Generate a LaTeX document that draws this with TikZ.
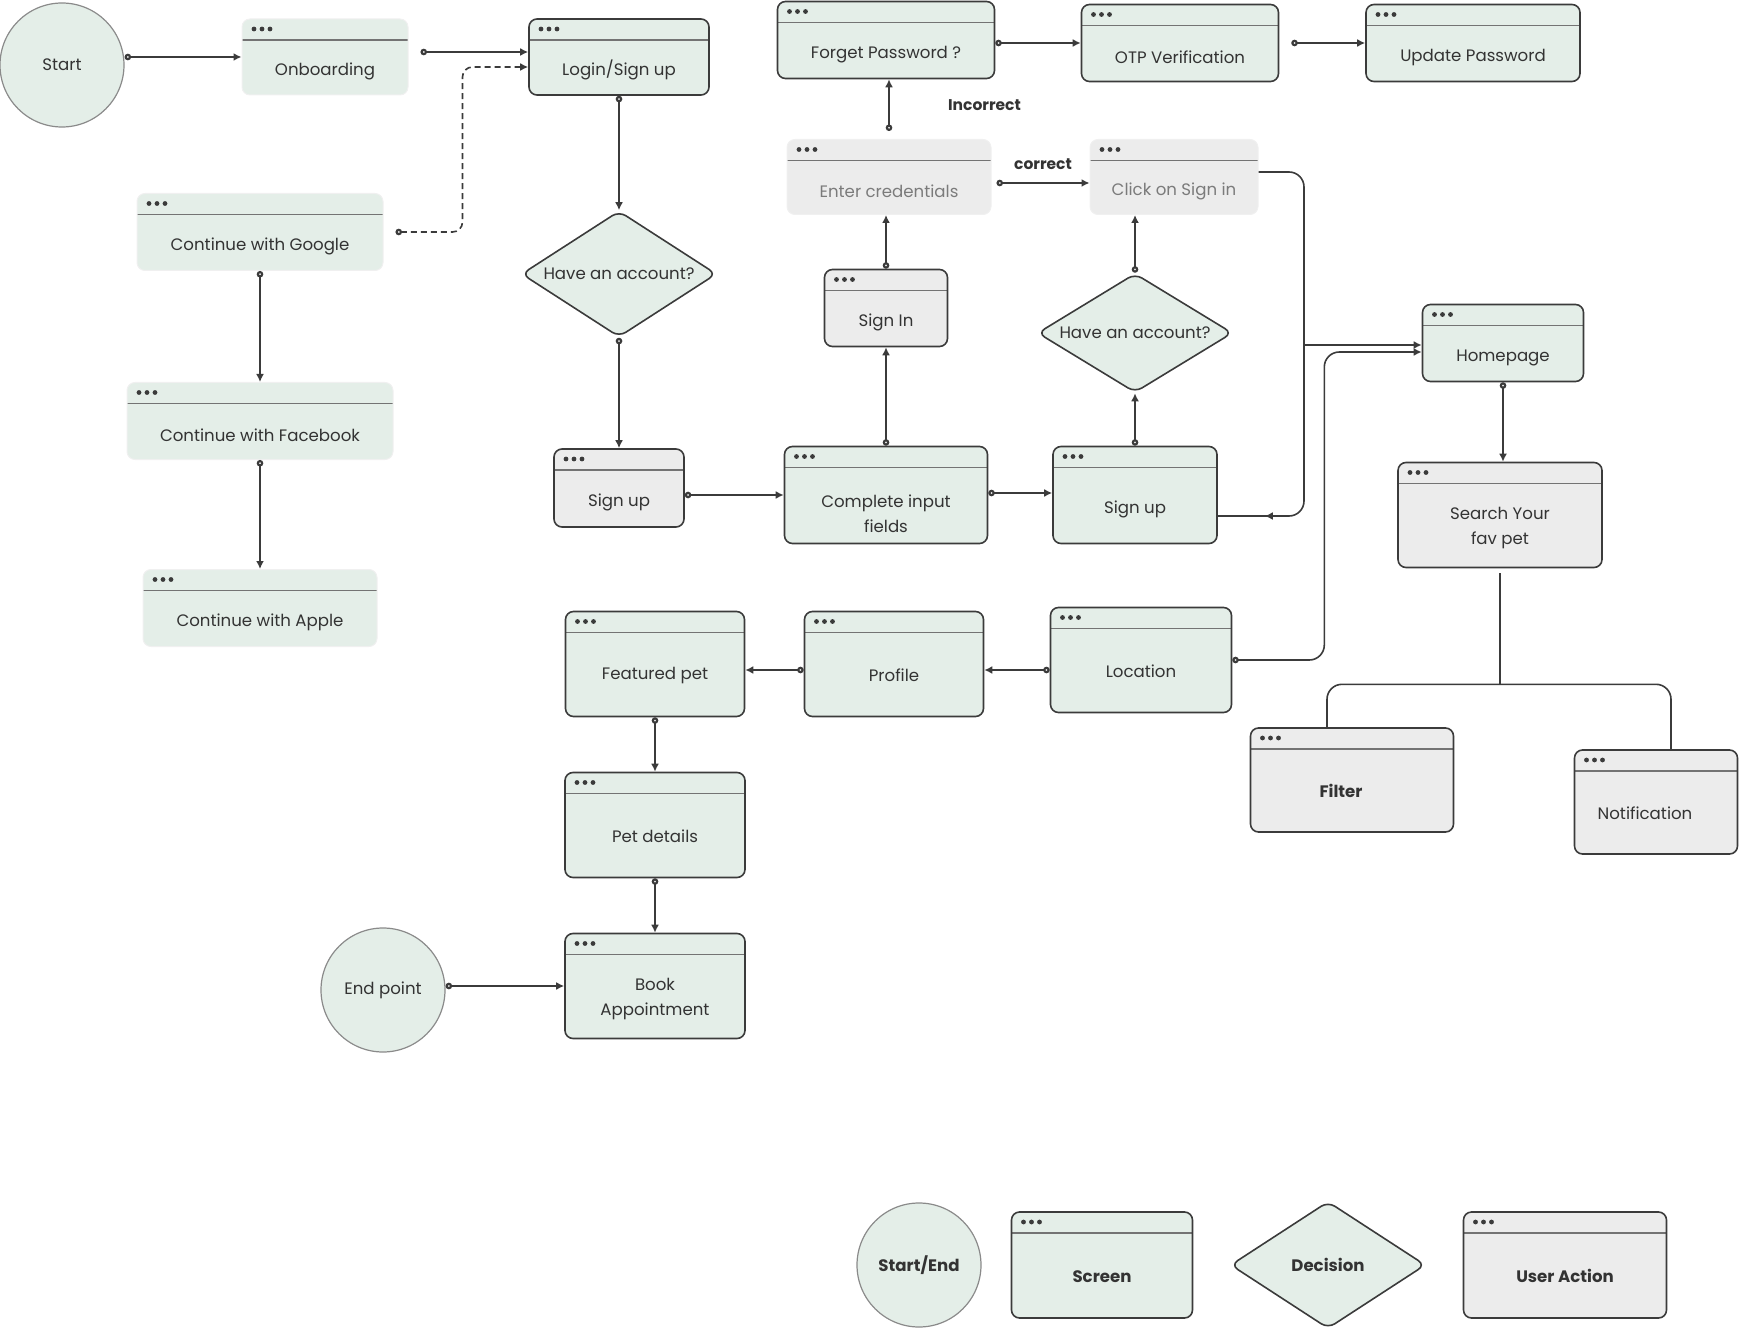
\documentclass[tikz,border=0pt]{standalone}
\usepackage{fontspec}
\setmainfont{Poppins}
\usepackage{tikz}
\usetikzlibrary{
    arrows.meta,
    shapes.geometric,
    positioning,
    calc,
    decorations.markings
}
\definecolor{screengreen}{HTML}{E4EEE8}
\definecolor{actiongray}{HTML}{ECECEC}
\definecolor{edgedark}{HTML}{3B3B3B}
\definecolor{textdark}{HTML}{333333}
\definecolor{textlight}{HTML}{7B7B7B}
\definecolor{ringgray}{HTML}{8A8A8A}
\newcommand{\headlen}{41pt}
\newcommand{\headroom}[1][\headlen]{\rule{0pt}{#1}}
\tikzstyle{screen} = [
    rectangle,
    rounded corners=8pt,
    draw=edgedark,
    line width=1.6pt,
    fill=screengreen,
    minimum height=77pt,
    align=center,
    text=textdark,
    font=\fontsize{16.6}{25}\selectfont,
    execute at begin node={\headroom},
    path picture={
        \draw[black!55, line width=1.4pt]
            ([yshift=-21pt]path picture bounding box.north west) --
            ([yshift=-21pt]path picture bounding box.north east);
        \foreach \dx in {12,20,28}
            \fill[edgedark] ([xshift=\dx pt, yshift=-10pt]path picture bounding box.north west) circle (2.4pt);
    }
]
\tikzstyle{action} = [screen, fill=actiongray]
\tikzstyle{flat} = [draw=black!6, line width=1pt]
\tikzstyle{tall} = [minimum height=105pt, /utils/exec={\def\headlen{36pt}}]
\tikzstyle{strong} = [font=\fontsize{16.6}{25}\selectfont\bfseries]
\tikzstyle{terminal} = [
    circle,
    draw=ringgray,
    line width=1.2pt,
    fill=screengreen,
    minimum size=124pt,
    text=textdark,
    font=\fontsize{16.6}{20}\selectfont
]
\tikzstyle{decision} = [
    diamond,
    aspect=1.55,
    draw=edgedark,
    line width=1.6pt,
    fill=screengreen,
    rounded corners=8pt,
    minimum width=195pt,
    minimum height=126pt,
    inner sep=0pt,
    text=textdark,
    font=\fontsize{16.6}{20}\selectfont
]
\tikzstyle{arrow} = [
    draw=edgedark,
    line width=1.6pt,
    {Circle[open,length=6.5pt,width=6.5pt,line width'=2.2pt]}-{Latex[length=8pt,width=8pt]}
]
\tikzstyle{link} = [
    draw=edgedark,
    line width=1.6pt
]
\tikzstyle{edgetext} = [
    font=\fontsize{15.5}{18}\selectfont\bfseries,
    text=textdark
]

\begin{document}
\begin{tikzpicture}[x=1pt, y=-1pt]
        \useasboundingbox (0,0) rectangle (1740,1329);

        % Entry
        \node[terminal] (start) at (62,65) {Start};
        \node[screen, flat, minimum width=166pt, minimum height=76pt] (onboarding) at (325,57) {Onboarding};
        \node[screen, minimum width=180pt, minimum height=76pt] (login) at (619,57) {Login/Sign up};

        % Social login
        \node[screen, flat, minimum width=246pt] (google) at (260,232) {Continue with Google};
        \node[screen, flat, minimum width=266pt] (facebook) at (260,421) {Continue with Facebook};
        \node[screen, flat, minimum width=234pt] (apple) at (260,608) {Continue with Apple};

        % Sign up branch
        \node[decision] (account1) at (619,274) {Have an account?};
        \node[action, minimum width=130pt, minimum height=78pt] (signup1) at (619,488) {Sign up};
        \node[screen, minimum width=203pt, minimum height=97pt] (inputs) at (886,495) {\headroom[50pt]Complete input\\fields};
        \node[screen, minimum width=164pt, minimum height=97pt] (signup2) at (1135,495) {Sign up};
        \node[decision, minimum height=119pt] (account2) at (1135,333) {Have an account?};

        % Sign in branch
        \node[action, minimum width=123pt] (signin) at (886,308) {Sign In};
        \node[action, flat, minimum width=204pt, minimum height=75pt, text=textlight] (credentials) at (889,177) {Enter credentials};
        \node[action, flat, minimum width=168pt, minimum height=75pt, text=textlight] (clicksignin) at (1174,177) {Click on Sign in};

        % Password recovery
        \node[screen, minimum width=217pt] (forget) at (886,40) {Forget Password ?};
        \node[screen, minimum width=197pt] (otp) at (1180,43) {OTP Verification};
        \node[screen, minimum width=214pt] (update) at (1473,43) {Update Password};

        % Home
        \node[screen, minimum width=161pt] (homepage) at (1503,343) {Homepage};
        \node[action, minimum width=204pt, minimum height=105pt] (search) at (1500,515) {\headroom[38pt]Search Your\\fav pet};
        \node[action, tall, strong, minimum width=203pt, minimum height=104pt] (filter) at (1352,780) {Filter\hspace*{22pt}};
        \node[action, tall, minimum width=163pt, minimum height=104pt] (notification) at (1656,802) {Notification\hspace*{22pt}};

        % Pet flow
        \node[screen, tall, minimum width=181pt] (location) at (1141,660) {Location};
        \node[screen, tall, minimum width=179pt] (profile) at (894,664) {Profile};
        \node[screen, tall, minimum width=179pt] (featured) at (655,664) {Featured pet};
        \node[screen, tall, minimum width=180pt] (petdetails) at (655,825) {Pet details};
        \node[screen, minimum width=180pt, minimum height=105pt] (booking) at (655,986) {\headroom[38pt]Book\\Appointment};
        \node[terminal] (endpoint) at (383,990) {End point};

        % Legend
        \node[terminal, font=\fontsize{16.6}{20}\selectfont\bfseries] (legendterminal) at (919,1265) {Start/End};
        \node[screen, tall, strong, minimum width=181pt, minimum height=106pt] (legendscreen) at (1102,1265) {Screen};
        \node[decision, font=\fontsize{16.6}{20}\selectfont\bfseries, minimum height=127pt] (legenddecision) at (1328,1265) {Decision};
        \node[action, tall, strong, minimum width=203pt, minimum height=106pt] (legendaction) at (1565,1265) {User Action};

        % Entry arrows
        \draw[arrow] (start.east |- onboarding.west) -- (onboarding.west);
        \draw[arrow] ([xshift=12pt, yshift=5pt]onboarding.east) -- ([yshift=5pt]login.west);
        \draw[arrow, dashed, dash pattern=on 6pt off 4pt, rounded corners=10pt] ([xshift=12pt]google.east) -- ++(67pt,0) |- ([yshift=-10pt]login.west);
        \draw[arrow] (google.south) -- (facebook.north);
        \draw[arrow] (facebook.south) -- (apple.north);

        % Sign up arrows
        \draw[arrow] (login.south) -- (account1.north);
        \draw[arrow] (account1.south) -- (signup1.north);
        \draw[arrow] (signup1.east |- inputs.west) -- (inputs.west);
        \draw[arrow] ([yshift=2pt]inputs.east) -- ([yshift=2pt]signup2.west);
        \draw[arrow] (signup2.north) -- (account2.south);
        \draw[arrow] (account2.north) -- (account2.north |- clicksignin.south);

        % Sign in arrows
        \draw[arrow] (inputs.north) -- (signin.south);
        \draw[arrow] (signin.north) -- (signin.north |- credentials.south);
        \draw[arrow] ([yshift=8pt]credentials.north) -- node[edgetext, right=55pt] {Incorrect} (credentials.north |- forget.south);
        \draw[arrow] ([xshift=5pt, yshift=-6pt]credentials.east) -- node[edgetext, above=9pt] {correct} ([yshift=-6pt]clicksignin.west);
        \draw[arrow] (forget.east |- otp.west) -- (otp.west);
        \draw[arrow] ([xshift=12pt]otp.east) -- (update.west);

        % To homepage
        \coordinate (merge) at (1304,345);
        \draw[link, rounded corners=15pt, postaction={decorate, decoration={markings, mark=at position -47pt with {\arrow{Latex[length=8pt,width=8pt]}}}}] ([yshift=5pt]clicksignin.east) -| (merge) |- ([yshift=-21pt]signup2.east);
        \draw[link, -{Latex[length=8pt,width=8pt]}] (merge) -- (merge -| homepage.west);
        \draw[arrow, rounded corners=15pt] (location.east) -- ++(92pt,0) |- ([yshift=-9pt]homepage.west);
        \draw[arrow] (homepage.south) -- (homepage.south |- search.north);

        % Search split
        \coordinate (split) at ([yshift=-116pt]search.south);
        \draw[link] ([yshift=-5pt]search.south) -- (split);
        \draw[link, rounded corners=15pt] (split) -| ([xshift=-25pt]filter.north);
        \draw[link, rounded corners=15pt] (split) -| ([xshift=15pt]notification.north);

        % Pet flow arrows
        \draw[arrow] ([yshift=-10pt]location.west) -- ([yshift=-10pt]location.west -| profile.east);
        \draw[arrow] ([yshift=-6pt]profile.west) -- ([yshift=-6pt]profile.west -| featured.east);
        \draw[arrow] (featured.south) -- (petdetails.north);
        \draw[arrow] (petdetails.south) -- (booking.north);
        \draw[arrow] (endpoint.east |- booking.west) -- (booking.west);
    \end{tikzpicture}
\end{document}
